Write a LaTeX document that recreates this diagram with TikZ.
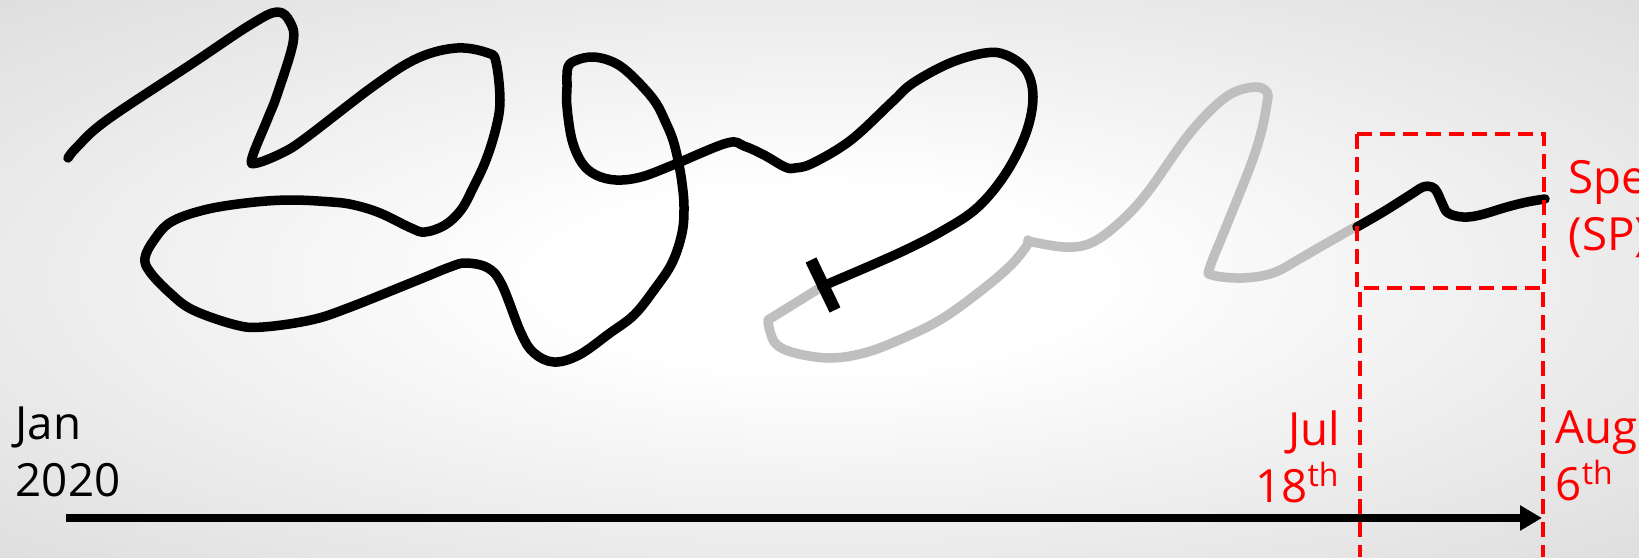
\documentclass[tikz,border=0pt]{standalone}
\usepackage{fontspec}
\setmainfont{Open Sans}
\usepackage{tikz}
\usetikzlibrary{arrows.meta}
\definecolor{PenBlack}{HTML}{000000}
\definecolor{PenGrey}{HTML}{BFBFBF}
\definecolor{MarkRed}{HTML}{FF0000}
\pgfdeclareradialshading{bgglow}{\pgfpoint{0bp}{0bp}}{color(0bp)=(white); color(8bp)=(white); color(25bp)=(black!8); color(36bp)=(black!13); color(50bp)=(black!13)}

\begin{document}
\begin{tikzpicture}[x=0.01cm,y=-0.01cm,
                    every node/.style={font=\fontsize{13}{16}\selectfont, inner sep=0pt},
                    pen/.style={line width=0.095cm, line cap=round, line join=round},
                    ar/.style={-{Triangle[length=2.2mm,width=2.4mm]}, line width=0.075cm, PenBlack},
                    redline/.style={MarkRed, line width=0.04cm, dash pattern=on 0.15cm off 0.08cm}]
      \shade[shading=bgglow] (0,0) rectangle (1639,557);
      \useasboundingbox (0,0) rectangle (1639,557);
      % grey part of the track
      \draw[pen, PenGrey] plot[smooth, tension=0.6] coordinates {(823,286) (768,320)};
      \draw[pen, PenGrey] plot[smooth, tension=0.6] coordinates {(768,322) (775,343) (795,353) (830,358)
        (864,353) (899,340) (940,320) (978,293) (1009,267) (1026,247) (1028,240)};
      \draw[pen, PenGrey] plot[smooth, tension=0.6] coordinates {(1028,241) (1064,247) (1091,243) (1119,223)
        (1147,193) (1190,133) (1226,97) (1254,87) (1267,92) (1267,103) (1261,133) (1250,167) (1226,227)
        (1210,267) (1212,275) (1242,278) (1273,273) (1301,258) (1320,247) (1357,226)};
      % black part of the track
      \draw[pen, PenBlack] plot[smooth, tension=0.6] coordinates {(68,158) (77,147) (107,120) (193,63)
        (250,25) (277,12) (290,22) (293,43) (277,95) (268,118) (252,158) (257,163) (284,152) (307,137)
        (375,85) (418,58) (457,48) (488,53) (496,62) (500,100) (496,128) (486,160) (473,188) (461,210)
        (445,225) (425,232) (411,228) (380,213) (354,205) (332,202) (289,200) (246,203) (204,210)
        (171,222) (154,240) (145,258) (150,272) (170,293) (193,310) (236,325) (263,327) (311,320)
        (348,308) (418,280) (450,267) (466,263) (488,268) (502,285) (521,333) (534,353) (554,362)
        (579,355) (610,333) (634,315) (654,290) (672,263) (682,233) (684,207) (682,183) (678,160)
        (673,140) (666,123) (656,103) (641,85) (623,68) (608,60) (592,57) (577,60) (568,67) (567,87)
        (567,107) (572,140) (582,163) (596,175) (616,180) (641,177) (673,165) (727,143) (744,146)
        (764,155) (785,167) (795,168) (813,163) (851,140) (892,102) (913,83) (950,63) (985,53)
        (1006,55) (1026,70) (1033,97) (1026,133) (1006,173) (978,207) (944,230) (899,253) (830,283)
        (823,286)};
      \draw[pen, PenBlack] plot[smooth, tension=0.6] coordinates {(1357,227) (1383,212) (1410,195)
        (1423,187) (1432,187) (1437,192) (1442,203) (1448,213) (1463,217) (1480,215) (1507,207)
        (1527,202) (1545,199)};
      \draw[line width=0.12cm, PenBlack] (811,260)--(835,310);
      % window
      \draw[redline] (1357,134) rectangle (1544,288);
      \coordinate (julTop) at (1360,292); \coordinate (julBot) at (1360,557);
      \coordinate (augTop) at (1543,292); \coordinate (augBot) at (1543,557);
      \draw[redline] (julTop)--(julBot); \draw[redline] (augTop)--(augBot);
      % time axis
      \coordinate (tStart) at (66,518); \coordinate (tEnd) at (1542,518);
      \draw[ar] (tStart)--(tEnd);
      \node[anchor=base west, align=left, text=PenBlack] (jan) at (15,496) {Jan\\2020};
      \node[anchor=base east, align=right, text=MarkRed] (jul) at (1341,502) {Jul\\18\textsuperscript{th}};
      \node[anchor=base west, align=left, text=MarkRed] (aug) at (1555,500) {Aug\\6\textsuperscript{th}};
      \node[anchor=base west, align=left, text=MarkRed] (spe) at (1568,250) {Spe\\(SP)};
    \end{tikzpicture}
\end{document}
